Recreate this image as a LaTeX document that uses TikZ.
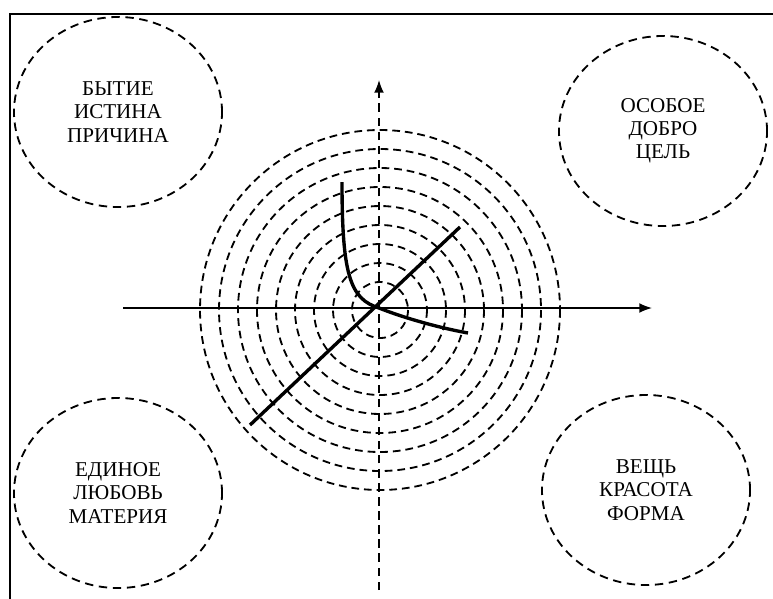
\documentclass[tikz,border=0pt]{standalone}
\usepackage{fontspec}
\setmainfont{Liberation Serif}
\usetikzlibrary{shapes.geometric,arrows.meta}

\begin{document}
\begin{tikzpicture}[
    x=0.025cm, y=-0.025cm,
    >={Latex[length=9pt,width=7pt]},
    font=\fontsize{15}{16.5}\selectfont,
    bubble/.style={ellipse, draw, dash pattern=on 6pt off 4pt, line width=1.3pt, align=center, minimum width=5.2cm, minimum height=4.75cm, inner sep=0pt},
    ring/.style={dash pattern=on 5.5pt off 3.5pt, line width=1.3pt},
    axisline/.style={line width=1.1pt},
    branch/.style={line width=2.4pt}
]
\useasboundingbox (0,0) rectangle (773,598);
\draw[line width=2.1pt] (10,14) rectangle (820,650);

\node[bubble] (being) at (118,112) {БЫТИЕ\\ИСТИНА\\ПРИЧИНА};
\node[bubble] (good) at (663,131) {ОСОБОЕ\\ДОБРО\\ЦЕЛЬ};
\node[bubble] (one) at (118,493) {ЕДИНОЕ\\ЛЮБОВЬ\\МАТЕРИЯ};
\node[bubble] (thing) at (646,490) {ВЕЩЬ\\КРАСОТА\\ФОРМА};

\coordinate (o) at (379,308);
\coordinate (c) at (380,310);
\coordinate (xl) at (123,308);
\coordinate (xr) at (652,308);
\coordinate (yb) at (379,590);
\coordinate (yt) at (379,80);
\coordinate (dl) at (250,425);
\coordinate (dr) at (460,227);
\coordinate (ct) at (342,182);
\coordinate (cr) at (468,333);

\foreach \r in {28,47,...,180}
    \draw[ring] (c) circle[radius=\r];

\draw[->, axisline] (xl) -- (xr);
\draw[->, axisline, dash pattern=on 6pt off 4pt] (yb) -- (yt);

\draw[branch] (dl) -- (dr);
\draw[branch] (ct) .. controls (342,275) and (350,299) .. (o)
    .. controls (404,318) and (440,328) .. (cr);
\end{tikzpicture}
\end{document}
